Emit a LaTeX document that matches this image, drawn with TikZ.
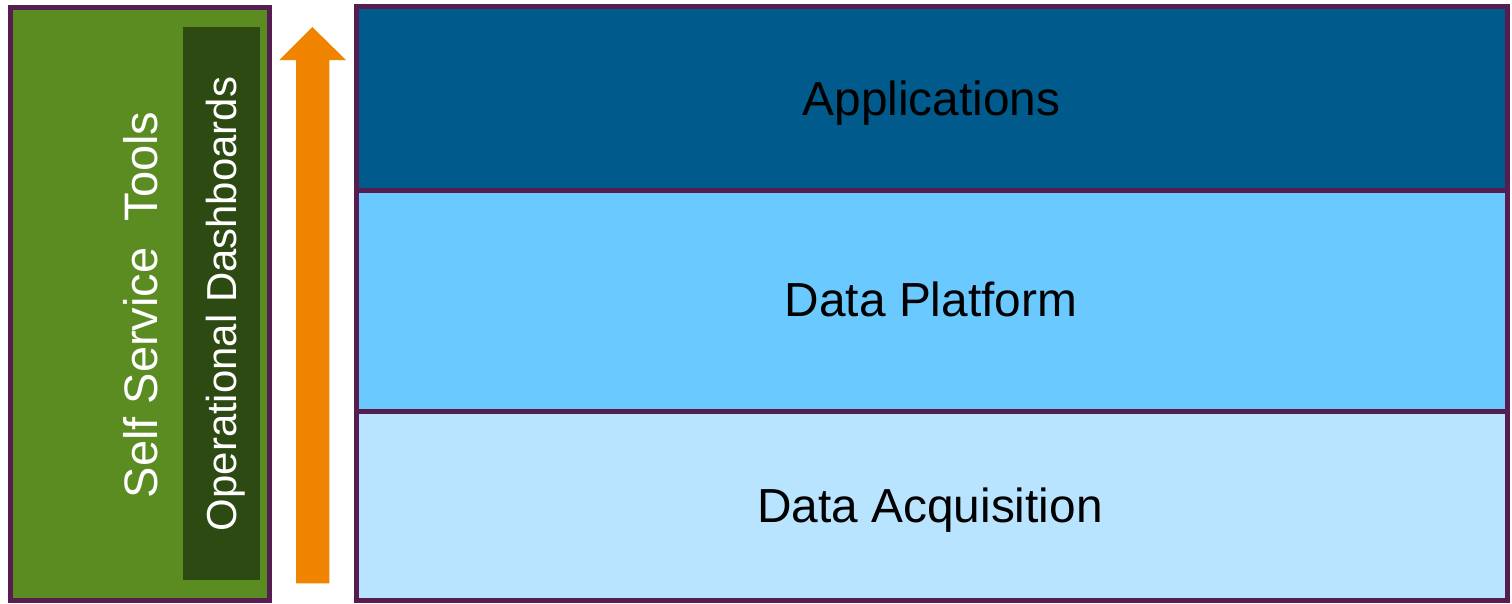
\documentclass[tikz,border=0pt]{standalone}
\usepackage{fontspec}
\setmainfont{Liberation Sans}
\definecolor{bordr}{HTML}{561D50}
\definecolor{grn}{HTML}{5B8C22}
\definecolor{dkgrn}{HTML}{2D4A12}
\definecolor{orng}{HTML}{F08300}
\definecolor{apps}{HTML}{015A8C}
\definecolor{plat}{HTML}{6AC9FF}
\definecolor{acq}{HTML}{B8E4FF}
\tikzset{
  layer/.style={draw=bordr, line width=5pt, inner sep=0pt, outer sep=0pt, minimum width=1151.5pt},
  layerlbl/.style={anchor=base, inner sep=0pt, font=\fontsize{47.8}{50}\selectfont, text=black},
  sidelbl/.style={rotate=90, anchor=base, inner sep=0pt, text=white},
}
\begin{document}
\begin{tikzpicture}[x=1pt,y=-1pt]
\useasboundingbox (0,0) rectangle (1512,603);
% left green panel
\node[draw=bordr, fill=grn, line width=5pt, inner sep=0pt, minimum width=258.7pt, minimum height=593pt] (selfsvc) at (139.7,304) {};
\node[sidelbl, font=\fontsize{47}{50}\selectfont] (selflbl) at (157,305) {Self Service\ \ Tools};
\node[fill=dkgrn, inner sep=0pt, minimum width=76.7pt, minimum height=553pt] (ops) at (221.3,303.5) {};
\node[sidelbl, font=\fontsize{41.9}{44}\selectfont] (opslbl) at (236.7,304) {Operational Dashboards};
% arrow
\fill[orng] (296,583.3) -- (296,60) -- (279.3,60) -- (312.3,27) -- (346,60) -- (329.3,60) -- (329.3,583.3) -- cycle;
% layers
\node[layer, fill=plat, minimum height=221pt] (plat) at (931.75,300.5) {};
\node[layer, fill=apps, minimum height=183.3pt] (apps) at (931.75,98.35) {};
\node[layer, fill=acq, minimum height=189.5pt] (acq) at (931.75,505.75) {};
\node[layerlbl] (appslbl) at (931.5,115) {Applications};
\node[layerlbl] (platlbl) at (931,316.7) {Data Platform};
\node[layerlbl] (acqlbl) at (930,522.7) {Data Acquisition};
\end{tikzpicture}
\end{document}
